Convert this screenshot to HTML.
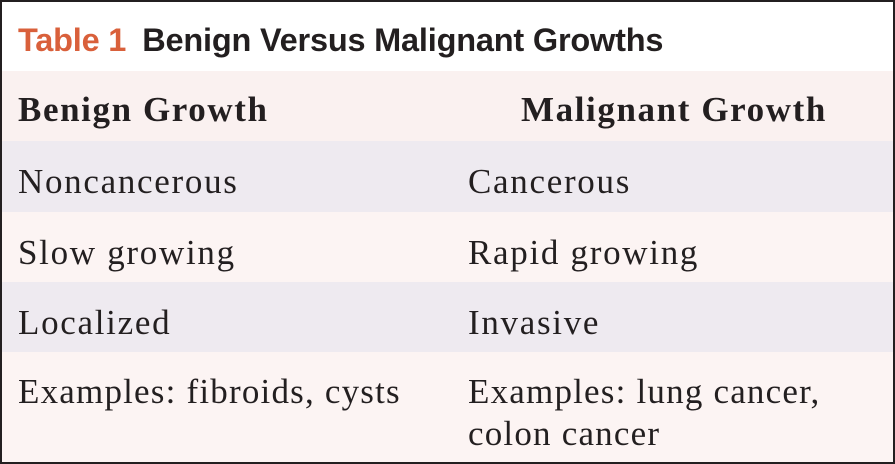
<!DOCTYPE html>
<html><head><style>
body{margin:0;width:895px;height:464px;overflow:hidden;background:#fff;}
.box{position:absolute;left:0;top:0;width:891px;height:460px;border:2px solid #231f20;background:#fff;overflow:hidden;}
.title{position:absolute;left:16px;top:20px;font-family:"Liberation Sans",sans-serif;font-size:32.5px;font-weight:bold;color:#231f20;letter-spacing:-0.2px;}
.title span{color:#d9603b;margin-right:16px;}
.row{position:absolute;left:0;width:891px;font-family:"Liberation Serif",serif;font-size:35px;letter-spacing:1.7px;color:#231f20;}
.row div{position:absolute;white-space:nowrap;}
</style></head><body>
<div class="box">
<div class="title"><span>Table 1</span>Benign Versus Malignant Growths</div>
<div class="row" style="top:69px;height:70px;background:#faf1f0;font-weight:bold;letter-spacing:1.6px;"><div style="left:16px;top:19px;">Benign Growth</div><div style="left:519px;top:19px;">Malignant Growth</div></div>
<div class="row" style="top:139px;height:71px;background:#eeeaf0;"><div style="left:16px;top:21px;">Noncancerous</div><div style="left:466px;top:21px;">Cancerous</div></div>
<div class="row" style="top:210px;height:70px;background:#fcf4f3;"><div style="left:16px;top:21px;">Slow growing</div><div style="left:466px;top:21px;">Rapid growing</div></div>
<div class="row" style="top:280px;height:70px;background:#eeeaf0;"><div style="left:16px;top:21px;">Localized</div><div style="left:466px;top:21px;">Invasive</div></div>
<div class="row" style="top:350px;height:112px;background:#fcf4f3;line-height:42px;"><div style="left:16px;top:19px;letter-spacing:1.2px;">Examples: fibroids, cysts</div><div style="left:466px;top:19px;letter-spacing:1.2px;">Examples: lung cancer,<br>colon cancer</div></div>
</div>
</body></html>
